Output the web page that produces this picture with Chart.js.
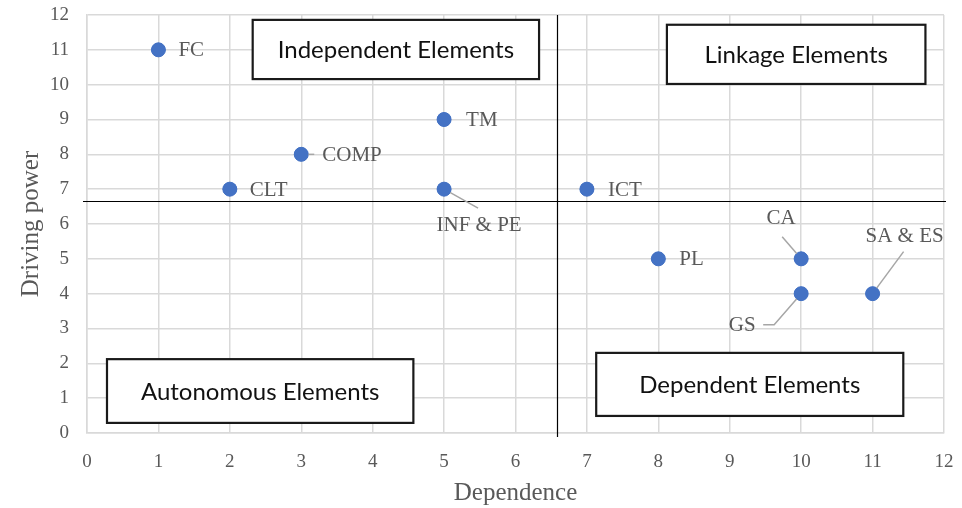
<!DOCTYPE html>
<html>
<head>
<meta charset="utf-8">
<script src="https://cdn.jsdelivr.net/npm/chart.js@4.4.0/dist/chart.umd.min.js"></script>
<style>
  html, body { margin: 0; padding: 0; background: #fff; }
  #wrap { width: 962px; height: 508px; }
</style>
</head>
<body>
<div id="wrap"><canvas id="grafica"></canvas></div>
<script>
// datos
var elementos = ['FC', 'COMP', 'CLT', 'TM', 'INF & PE', 'ICT', 'PL', 'CA', 'GS', 'SA & ES'];
var dependencia = [1, 3, 2, 5, 5, 7, 8, 10, 10, 11];
var poderMotriz = [11, 8, 7, 9, 7, 7, 5, 5, 4, 4];
var ticksEje = [0, 1, 2, 3, 4, 5, 6, 7, 8, 9, 10, 11, 12];

// lineas que separan los cuadrantes (valores de los ejes)
var corteX = 6.58;
var corteY = 6.66;

// ubicacion de las etiquetas respecto al punto (px)
var etiquetas = {
  'FC':       { dx: 20, dy: 1, align: 'left' },
  'COMP':     { dx: 21, dy: 1, align: 'left', guia: [[0, 0], [13, 0]] },
  'CLT':      { dx: 20, dy: 1, align: 'left' },
  'TM':       { dx: 22, dy: 1, align: 'left' },
  'INF & PE': { dx: 35, dy: 36, align: 'center', guia: [[0, 0], [34, 19]] },
  'ICT':      { dx: 21, dy: 1, align: 'left' },
  'PL':       { dx: 21, dy: 1, align: 'left' },
  'CA':       { dx: -20, dy: -40, align: 'center', guia: [[0, 0], [-19, -22]] },
  'GS':       { dx: -59, dy: 32, align: 'center', guia: [[0, 0], [-27, 31], [-38, 31]] },
  'SA & ES':  { dx: 32, dy: -57, align: 'center', guia: [[0, 0], [31, -42]] }
};

// cuadros de texto (en unidades de los ejes)
var cuadros = [
  { texto: 'Independent Elements', x0: 2.32, x1: 6.33, y0: 11.86, y1: 10.16 },
  { texto: 'Linkage Elements', x0: 8.12, x1: 11.74, y0: 11.72, y1: 10.02 },
  { texto: 'Autonomous Elements', x0: 0.28, x1: 4.57, y0: 2.12, y1: 0.29 },
  { texto: 'Dependent Elements', x0: 7.13, x1: 11.43, y0: 2.30, y1: 0.49 }
];

var gris = '#595959';
var serif = "'Liberation Serif', 'Times New Roman', serif";

var decoracion = {
  id: 'decoracion',
  afterDatasetsDraw: function (chart) {
    var ctx = chart.ctx;
    var sx = chart.scales.x, sy = chart.scales.y;
    var area = chart.chartArea;
    ctx.save();

    // lineas de cuadrante
    ctx.strokeStyle = '#000';
    ctx.lineWidth = 1.2;
    ctx.beginPath();
    var px = Math.round(sx.getPixelForValue(corteX)) + 0.5;
    ctx.moveTo(px, area.top);
    ctx.lineTo(px, area.bottom + 4);
    var py = Math.round(sy.getPixelForValue(corteY)) + 0.5;
    ctx.moveTo(area.left - 4, py);
    ctx.lineTo(area.right + 2, py);
    ctx.stroke();

    // cuadros
    cuadros.forEach(function (c) {
      var l = sx.getPixelForValue(c.x0), r = sx.getPixelForValue(c.x1);
      var t = sy.getPixelForValue(c.y0), b = sy.getPixelForValue(c.y1);
      ctx.fillStyle = '#fff';
      ctx.fillRect(l, t, r - l, b - t);
      ctx.strokeStyle = '#1a1a1a';
      ctx.lineWidth = 2.2;
      ctx.strokeRect(l, t, r - l, b - t);
      ctx.fillStyle = '#111';
      ctx.font = "24px Lato, 'Noto Sans', sans-serif";
      ctx.textAlign = 'center';
      ctx.textBaseline = 'middle';
      ctx.fillText(c.texto, (l + r) / 2, (t + b) / 2 + 1);
    });

    // guias de las etiquetas
    var meta = chart.getDatasetMeta(0);
    meta.data.forEach(function (pt, i) {
      var e = etiquetas[elementos[i]];
      if (e.guia) {
        ctx.strokeStyle = '#a6a6a6';
        ctx.lineWidth = 1.5;
        ctx.beginPath();
        e.guia.forEach(function (p, k) {
          if (k === 0) ctx.moveTo(pt.x + p[0], pt.y + p[1]);
          else ctx.lineTo(pt.x + p[0], pt.y + p[1]);
        });
        ctx.stroke();
      }
    });
    // redibujar puntos encima de las guias
    meta.data.forEach(function (pt) {
      ctx.fillStyle = '#4472C4';
      ctx.beginPath();
      ctx.arc(pt.x, pt.y, 7, 0, Math.PI * 2);
      ctx.fill();
    });
    ctx.font = '21px ' + serif;
    ctx.fillStyle = gris;
    ctx.textBaseline = 'middle';
    meta.data.forEach(function (pt, i) {
      var e = etiquetas[elementos[i]];
      ctx.textAlign = e.align;
      ctx.fillText(elementos[i], pt.x + e.dx, pt.y + e.dy);
    });
    ctx.restore();
  }
};

var puntos = dependencia.map(function (d, i) { return { x: d, y: poderMotriz[i] }; });

var ctx = document.getElementById('grafica').getContext('2d');
var grafica = new Chart(ctx, {
  type: 'scatter',
  data: {
    datasets: [{
      label: 'Elementos',
      data: puntos,
      backgroundColor: '#4472C4',
      borderColor: '#4472C4',
      pointRadius: 7,
      pointHoverRadius: 7
    }]
  },
  options: {
    responsive: true,
    maintainAspectRatio: false,
    animation: false,
    layout: { padding: { top: 15, right: 18, left: 0, bottom: 0 } },
    plugins: { legend: { display: false }, tooltip: { enabled: false } },
    scales: {
      x: {
        type: 'linear',
        min: 0, max: 12,
        afterBuildTicks: function (s) { s.ticks = ticksEje.map(function (v) { return { value: v }; }); },
        afterFit: function (s) { s.height = 75; s.paddingLeft = 0; s.paddingRight = 0; },
        grid: { color: '#d9d9d9', lineWidth: 1.5, drawTicks: false },
        border: { color: '#d9d9d9', width: 1.5 },
        ticks: { color: gris, padding: 18, font: { family: serif, size: 19 } },
        title: { display: true, text: 'Dependence', color: gris, font: { family: serif, size: 25 }, padding: { top: 0, bottom: 0 } }
      },
      y: {
        type: 'linear',
        min: 0, max: 12,
        afterBuildTicks: function (s) { s.ticks = ticksEje.map(function (v) { return { value: v }; }); },
        afterFit: function (s) { s.width = 87; s.paddingTop = 0; s.paddingBottom = 0; },
        grid: { color: '#d9d9d9', lineWidth: 1.5, drawTicks: false },
        border: { color: '#d9d9d9', width: 1.5 },
        ticks: { color: gris, padding: 18, font: { family: serif, size: 19 } },
        title: { display: true, text: 'Driving power', color: gris, font: { family: serif, size: 25 }, padding: { top: 16, bottom: 0 } }
      }
    }
  },
  plugins: [decoracion]
});
</script>
</body>
</html>
